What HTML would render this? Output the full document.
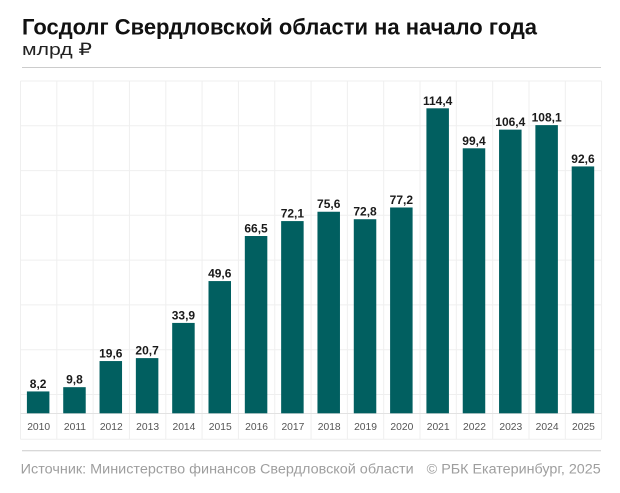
<!DOCTYPE html>
<html><head><meta charset="utf-8"><style>
html,body{margin:0;padding:0;background:#fff;}
svg{display:block;}
text{font-family:"Liberation Sans",Arial,sans-serif;}
</style></head><body>
<svg width="620" height="493" viewBox="0 0 620 493" xmlns="http://www.w3.org/2000/svg">
<rect width="620" height="493" fill="#fff"/>
<text x="22" y="34.3" font-size="22" font-weight="bold" fill="#111" textLength="515" lengthAdjust="spacingAndGlyphs">Госдолг Свердловской области на начало года</text>
<text x="22" y="55" font-size="17" fill="#222" textLength="70" lengthAdjust="spacingAndGlyphs">млрд ₽</text>
<line x1="22" y1="67.5" x2="601" y2="67.5" stroke="#cccccc" stroke-width="1"/>
<g stroke="#efefef" stroke-width="1" fill="none">
<line x1="20.5" y1="81" x2="601.6" y2="81"/>
<line x1="20.5" y1="125.8" x2="601.6" y2="125.8"/>
<line x1="20.5" y1="170.6" x2="601.6" y2="170.6"/>
<line x1="20.5" y1="215.3" x2="601.6" y2="215.3"/>
<line x1="20.5" y1="260.1" x2="601.6" y2="260.1"/>
<line x1="20.5" y1="304.9" x2="601.6" y2="304.9"/>
<line x1="20.5" y1="349.7" x2="601.6" y2="349.7"/>
<line x1="20.5" y1="394.5" x2="601.6" y2="394.5"/>
<line x1="20.5" y1="439.3" x2="601.6" y2="439.3"/>
<line x1="20.5" y1="81" x2="20.5" y2="439.3"/>
<line x1="56.82" y1="81" x2="56.82" y2="439.3"/>
<line x1="93.14" y1="81" x2="93.14" y2="439.3"/>
<line x1="129.46" y1="81" x2="129.46" y2="439.3"/>
<line x1="165.78" y1="81" x2="165.78" y2="439.3"/>
<line x1="202.1" y1="81" x2="202.1" y2="439.3"/>
<line x1="238.42" y1="81" x2="238.42" y2="439.3"/>
<line x1="274.74" y1="81" x2="274.74" y2="439.3"/>
<line x1="311.06" y1="81" x2="311.06" y2="439.3"/>
<line x1="347.38" y1="81" x2="347.38" y2="439.3"/>
<line x1="383.7" y1="81" x2="383.7" y2="439.3"/>
<line x1="420.02" y1="81" x2="420.02" y2="439.3"/>
<line x1="456.34" y1="81" x2="456.34" y2="439.3"/>
<line x1="492.66" y1="81" x2="492.66" y2="439.3"/>
<line x1="528.98" y1="81" x2="528.98" y2="439.3"/>
<line x1="565.3" y1="81" x2="565.3" y2="439.3"/>
<line x1="601.6" y1="81" x2="601.6" y2="439.3"/>
</g>
<line x1="20.5" y1="413.5" x2="601.6" y2="413.5" stroke="#e2e2e2" stroke-width="1"/>
<g fill="#015f60">
<rect x="26.9" y="391.44" width="22.5" height="21.86"/>
<rect x="63.22" y="387.17" width="22.5" height="26.13"/>
<rect x="99.54" y="361.05" width="22.5" height="52.25"/>
<rect x="135.86" y="358.11" width="22.5" height="55.19"/>
<rect x="172.18" y="322.92" width="22.5" height="90.38"/>
<rect x="208.5" y="281.07" width="22.5" height="132.23"/>
<rect x="244.82" y="236.01" width="22.5" height="177.29"/>
<rect x="281.14" y="221.08" width="22.5" height="192.22"/>
<rect x="317.46" y="211.75" width="22.5" height="201.55"/>
<rect x="353.78" y="219.22" width="22.5" height="194.08"/>
<rect x="390.1" y="207.48" width="22.5" height="205.82"/>
<rect x="426.42" y="108.31" width="22.5" height="304.99"/>
<rect x="462.74" y="148.3" width="22.5" height="265.0"/>
<rect x="499.06" y="129.64" width="22.5" height="283.66"/>
<rect x="535.38" y="125.11" width="22.5" height="288.19"/>
<rect x="571.7" y="166.43" width="22.5" height="246.87"/>
</g>
<g font-size="12" font-weight="bold" fill="#1a1a1a" text-anchor="middle">
<text x="38.15" y="387.9">8,2</text>
<text x="74.47" y="383.7">9,8</text>
<text x="110.79" y="357.5">19,6</text>
<text x="147.11" y="354.6">20,7</text>
<text x="183.43" y="319.4">33,9</text>
<text x="219.75" y="277.6">49,6</text>
<text x="256.07" y="232.5">66,5</text>
<text x="292.39" y="217.6">72,1</text>
<text x="328.71" y="208.2">75,6</text>
<text x="365.03" y="215.7">72,8</text>
<text x="401.35" y="204.0">77,2</text>
<text x="437.67" y="104.8">114,4</text>
<text x="473.99" y="144.8">99,4</text>
<text x="510.31" y="126.1">106,4</text>
<text x="546.63" y="121.6">108,1</text>
<text x="582.95" y="162.9">92,6</text>
</g>
<g font-size="10.3" fill="#555" text-anchor="middle">
<text x="38.66" y="430">2010</text>
<text x="74.98" y="430">2011</text>
<text x="111.3" y="430">2012</text>
<text x="147.62" y="430">2013</text>
<text x="183.94" y="430">2014</text>
<text x="220.26" y="430">2015</text>
<text x="256.58" y="430">2016</text>
<text x="292.9" y="430">2017</text>
<text x="329.22" y="430">2018</text>
<text x="365.54" y="430">2019</text>
<text x="401.86" y="430">2020</text>
<text x="438.18" y="430">2021</text>
<text x="474.5" y="430">2022</text>
<text x="510.82" y="430">2023</text>
<text x="547.14" y="430">2024</text>
<text x="583.46" y="430">2025</text>
</g>
<line x1="22" y1="450.8" x2="601" y2="450.8" stroke="#cccccc" stroke-width="1"/>
<text x="20.7" y="473.3" font-size="13.5" fill="#9e9e9e" textLength="393" lengthAdjust="spacingAndGlyphs">Источник: Министерство финансов Свердловской области</text>
<text x="426.7" y="473.3" font-size="13.5" fill="#9e9e9e" textLength="174" lengthAdjust="spacingAndGlyphs">© РБК Екатеринбург, 2025</text>
</svg>
</body></html>
